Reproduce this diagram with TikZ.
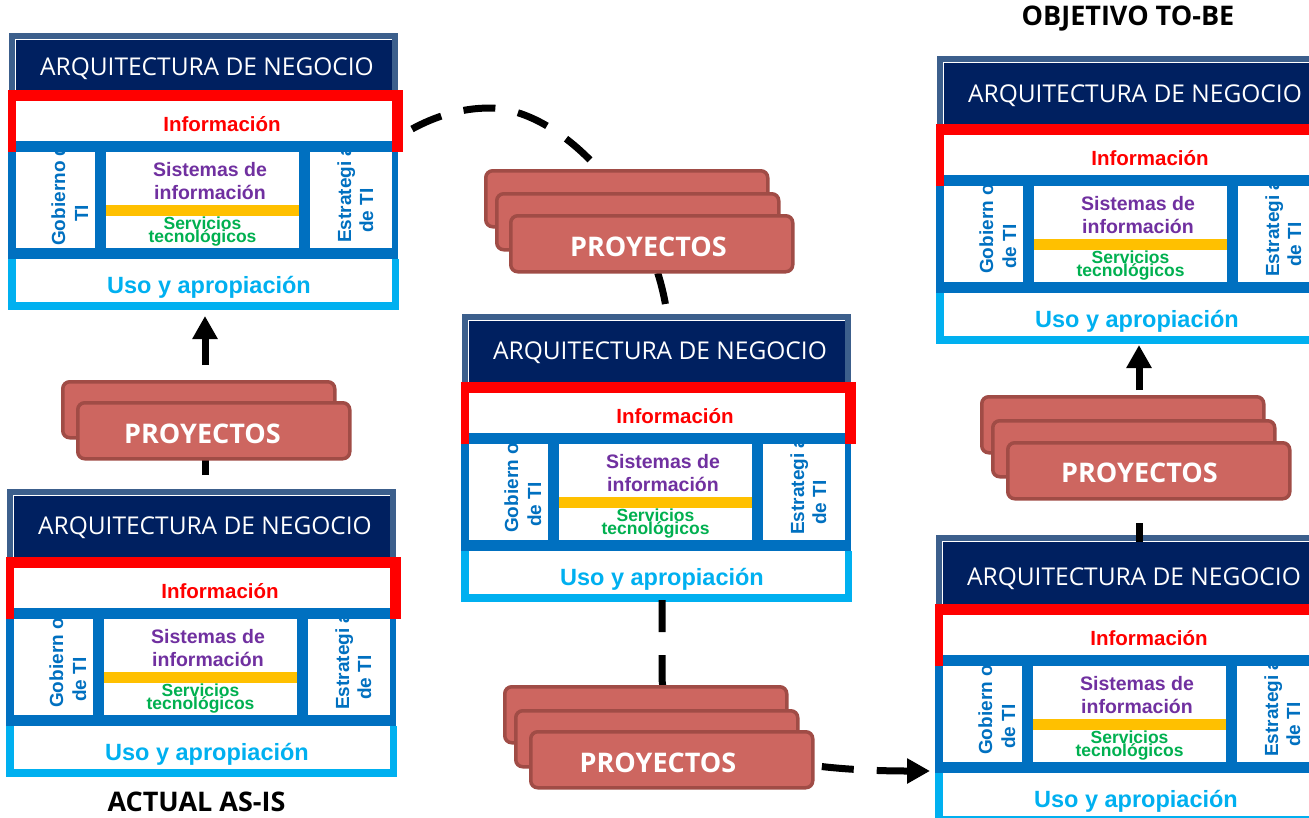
\documentclass[tikz,border=0pt]{standalone}
\usepackage{fontspec}
\setmainfont{Liberation Sans}
\newfontfamily\osans{Open Sans}
\usetikzlibrary{arrows.meta}
\definecolor{steel}{HTML}{3C5F8C}
\definecolor{navy}{HTML}{002060}
\definecolor{redc}{HTML}{FF0000}
\definecolor{bluec}{HTML}{0070C0}
\definecolor{lblue}{HTML}{00B0F0}
\definecolor{yellowc}{HTML}{FFC000}
\definecolor{purplec}{HTML}{7030A0}
\definecolor{greenc}{HTML}{00B050}
\definecolor{projfill}{HTML}{CD6660}
\definecolor{projdraw}{HTML}{A04C46}
\tikzset{
  arqtext/.style={font=\osans\fontsize{24.5}{29}\selectfont, text=white, inner sep=0pt, anchor=base},
  infotext/.style={font=\bfseries\fontsize{20.5}{24}\selectfont, text=redc, inner sep=0pt, anchor=base},
  sisttext/.style={font=\bfseries\fontsize{19.5}{23}\selectfont, text=purplec, inner sep=0pt, anchor=base},
  servtext/.style={font=\bfseries\fontsize{17.5}{11}\selectfont, text=greenc, inner sep=0pt, anchor=base},
  usotext/.style={font=\bfseries\fontsize{23.5}{28}\selectfont, text=lblue, inner sep=0pt, anchor=base},
  rottext/.style={font=\bfseries\fontsize{19}{23}\selectfont, text=bluec, inner sep=0pt, rotate=90, anchor=base west},
  blockbox/.style={inner sep=0pt, minimum width=390pt, anchor=north west},
  card/.style={rectangle, rounded corners=7pt, fill=projfill, draw=projdraw, line width=3.5pt,
               minimum width=282pt, minimum height=56pt, inner sep=0pt, anchor=north west},
  projtext/.style={font=\osans\bfseries\fontsize{27}{32}\selectfont, text=white, inner sep=0pt},
  titletext/.style={font=\osans\bfseries\fontsize{27}{32}\selectfont, text=black, inner sep=0pt},
  conn/.style={line width=7pt, black, dash pattern=on 32pt off 23pt},
  tip/.style={-{Triangle[width=24pt,length=23pt]}}
}
% #1 name, #2 x0, #3 y0, #4 header height, #5 ARQ baseline, #6 gob line 1, #7 gob line 2,
% #8 gob line 2 start offset, #9 gob line 1 start offset
\newcommand\archblock[9]{%
\begin{scope}[shift={(#2,#3)}]
  \node[blockbox, minimum height=#4+220] (#1) at (0,0) {};
  % header
  \fill[steel] (0,0) rectangle (389,#4);
  \fill[navy] (6,6) rectangle (383,#4);
  \draw[white, line width=0.8pt] (6.4,#4) -- (6.4,6.4) -- (383,6.4);
  % informacion (red frame)
  \fill[redc] (-1,#4) rectangle (394,#4+62);
  \fill[white] (7,#4+11) rectangle (383,#4+51);
  \fill[bluec] (7,#4+51) rectangle (383,#4+62);
  % blue frame with three boxes
  \fill[bluec] (-1,#4+62) rectangle (389,#4+169);
  \fill[white] (7,#4+62) rectangle (86,#4+158);
  \fill[white] (97,#4+62) rectangle (290,#4+158);
  \fill[white] (301,#4+62) rectangle (383,#4+158);
  \fill[yellowc] (97,#4+115) rectangle (290,#4+126);
  % uso y apropiacion
  \fill[lblue] (-1,#4+169) rectangle (390,#4+220);
  \fill[white] (7,#4+169) rectangle (383,#4+212);
  % texts
  \node[arqtext] at (198,#5) {ARQUITECTURA DE NEGOCIO};
  \node[infotext] at (213,#4+41) {Información};
  \node[sisttext] at (201,#4+86) {Sistemas de};
  \node[sisttext] at (201,#4+109) {información};
  \node[servtext] at (193.5,#4+139.5) {Servicios};
  \node[servtext] at (193.5,#4+152.5) {tecnológicos};
  \node[usotext] at (200,#4+203) {Uso y apropiación};
  \begin{scope}
    \clip (7,#4+62) rectangle (86,#4+158);
    \node[rottext] at (56,#4+158-#9) {#6};
    \node[rottext] at (79,#4+158-#8) {#7};
  \end{scope}
  \begin{scope}
    \clip (301,#4+62) rectangle (383,#4+158);
    \node[rottext] at (342,#4+153) {Estrategi a};
    \node[rottext] at (364,#4+143) {de TI};
  \end{scope}
\end{scope}}

\begin{document}
\begin{tikzpicture}[x=1pt,y=-1pt]
\useasboundingbox (0,0) rectangle (1309,817);
\fill[white] (0,0) rectangle (1309,817);
\begin{scope}
\clip (0,0) rectangle (1309,817);

% blocks
\archblock{A1}{9}{33}{57}{42}{Gobierno de}{TI}{26}{2}
\archblock{A2}{7}{489}{68}{45}{Gobiern o}{de TI}{13}{7}
\archblock{C}{462}{314}{68}{45}{Gobiern o}{de TI}{13}{7}
\archblock{R1}{937}{56}{68}{46}{Gobiern o}{de TI}{13}{8}
\archblock{R2}{936}{535}{69}{50}{Gobiern o}{de TI}{13}{7}

% connector end points
\coordinate (a2s) at (205,475);
\coordinate (a1e) at (205,316);
\coordinate (c1s) at (412,129);
\coordinate (c1e) at (667,314);
\coordinate (c2s) at (662,600);
\coordinate (c2e) at (930,771);
\coordinate (r2s) at (1139,542);
\coordinate (r1e) at (1139,345);

% connectors
\draw[conn, tip] (a2s) -- (a1e);
\draw[conn] (c1s) .. controls (434,117) and (460,108) .. (490,108)
              .. controls (562,109) and (652,205) .. (c1e);
\draw[conn, tip] (c2s) -- (662,677) .. controls (662,737) and (760,771) .. (c2e);
\draw[conn, tip, dash phase=13pt] (r2s) -- (r1e);

% project stacks
\node[card] (P1a) at (484,169) {};
\node[card] (P1b) at (495,192) {};
\node[card] (P1) at (509,214) {};
\node[projtext] (P1t) at (648.5,246.5) {PROYECTOS};

\node[card, minimum width=272pt] (P2a) at (61,380) {};
\node[card, minimum width=272pt] (P2) at (76,401) {};
\node[projtext] (P2t) at (202.5,433.5) {PROYECTOS};

\node[card] (P3a) at (980,395) {};
\node[card] (P3b) at (991,419) {};
\node[card] (P3) at (1006,441) {};
\node[projtext] (P3t) at (1139.5,472.5) {PROYECTOS};

\node[card] (P4a) at (503,685) {};
\node[card] (P4b) at (514,709) {};
\node[card] (P4) at (529,730) {};
\node[projtext] (P4t) at (658,763) {PROYECTOS};

% titles
\node[titletext] (asis) at (196.5,801.5) {ACTUAL AS-IS};
\node[titletext] (tobe) at (1128,19) {OBJETIVO TO-BE};
\end{scope}
\end{tikzpicture}
\end{document}
